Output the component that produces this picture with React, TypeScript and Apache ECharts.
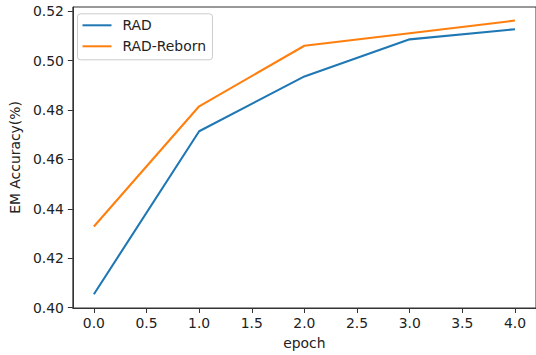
import React, { useEffect, useRef } from "react";
import * as echarts from "echarts";

const epochs = [0, 1, 2, 3, 4];
const radValues = [0.4054, 0.4714, 0.4936, 0.5086, 0.5127];
const rebornValues = [0.4328, 0.4815, 0.506, 0.5111, 0.5162];
const xTicks = [0, 0.5, 1, 1.5, 2, 2.5, 3, 3.5, 4];
const yTicks = [0.4, 0.42, 0.44, 0.46, 0.48, 0.5, 0.52];
const seriesNames = ["RAD", "RAD-Reborn"];

const FONT = "DejaVu Sans";

export default function App() {
  const ref = useRef<HTMLDivElement>(null);
  useEffect(() => {
    document.body.style.margin = "0";
    const chart = echarts.init(ref.current!, null, { renderer: "svg" });
    const textStyle = { fontFamily: FONT, fontSize: 13.9, color: "#222" };
    const axisLine = { show: true, onZero: false, lineStyle: { color: "#333", width: 1 } };
    chart.setOption({
      animation: false,
      grid: {
        left: 70.4,
        top: 7,
        width: 469.4,
        height: 304.7,
        show: true,
        borderColor: "#333",
        borderWidth: 1,
        backgroundColor: "transparent",
      },
      legend: {
        orient: "vertical",
        left: 77.5,
        top: 13.8,
        data: seriesNames,
        icon: "rect",
        itemWidth: 29,
        itemHeight: 2,
        itemGap: 7,
        padding: [4.5, 6.5, 6.5, 5],
        backgroundColor: "rgba(255,255,255,0.8)",
        borderColor: "#cccccc",
        borderWidth: 1,
        borderRadius: 3,
        textStyle: { ...textStyle, lineHeight: 14, padding: [0, 0, 0, 6] },
      },
      xAxis: {
        type: "value",
        min: -0.2,
        max: 4.2,
        name: "epoch",
        nameLocation: "middle",
        nameGap: 28,
        nameTextStyle: textStyle,
        axisLine,
        splitLine: { show: false },
        axisTick: {
          show: true,
          length: 5,
          customValues: xTicks,
          lineStyle: { color: "#333", width: 1 },
        },
        axisLabel: {
          ...textStyle,
          margin: 8,
          customValues: xTicks,
          formatter: (v: number) => v.toFixed(1),
        },
      },
      yAxis: {
        type: "value",
        min: 0.39982,
        max: 0.5217,
        name: "EM Accuracy(%)",
        nameLocation: "middle",
        nameGap: 45,
        nameTextStyle: textStyle,
        axisLine,
        splitLine: { show: false },
        axisTick: {
          show: true,
          length: 5,
          customValues: yTicks,
          lineStyle: { color: "#333", width: 1 },
        },
        axisLabel: {
          ...textStyle,
          margin: 9,
          customValues: yTicks,
          formatter: (v: number) => v.toFixed(2),
        },
      },
      series: [
        {
          name: seriesNames[0],
          type: "line",
          data: epochs.map((e, i) => [e, radValues[i]]),
          showSymbol: false,
          symbol: "none",
          color: "#1f77b4",
          lineStyle: { width: 2.08, color: "#1f77b4" },
        },
        {
          name: seriesNames[1],
          type: "line",
          data: epochs.map((e, i) => [e, rebornValues[i]]),
          showSymbol: false,
          symbol: "none",
          color: "#ff7f0e",
          lineStyle: { width: 2.08, color: "#ff7f0e" },
        },
      ],
    });
    return () => chart.dispose();
  }, []);
  return <div ref={ref} style={{ width: 536, height: 355 }} />;
}
